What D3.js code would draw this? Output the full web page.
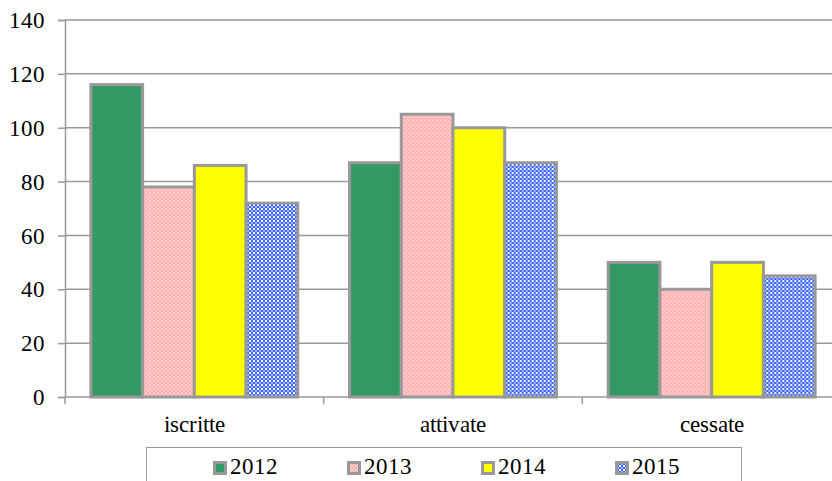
<!DOCTYPE html>
<html>
<head>
<meta charset="utf-8">
<script src="https://cdn.jsdelivr.net/npm/d3@7"></script>
<style>
  @font-face { font-family: "ChartSerif"; src: local("Liberation Serif"), local("LiberationSerif"), local("Times New Roman"); }
  body { margin: 0; background: #fff; }
  .lbl { font-family: "ChartSerif", "Liberation Serif", serif; font-size: 23px; fill: #000; }
</style>
</head>
<body>
<svg id="chart" width="832" height="481"></svg>
<script>
var categories = ["iscritte", "attivate", "cessate"];
var years = ["2012", "2013", "2014", "2015"];
var v2012 = [116, 87, 50];
var v2013 = [78, 105, 40];
var v2014 = [86, 100, 50];
var v2015 = [72, 87, 45];
var yTicks = [0, 20, 40, 60, 80, 100, 120, 140];

var series = [v2012, v2013, v2014, v2015];

var svg = d3.select("#chart");
var margin = { top: 20, left: 65 };
var plotBottom = 397;
var plotRight = 841;

var defs = svg.append("defs");
// 2013: pink dotted fill
var pPink = defs.append("pattern").attr("id", "pink").attr("width", 4).attr("height", 4)
  .attr("patternUnits", "userSpaceOnUse");
pPink.append("rect").attr("width", 4).attr("height", 4).attr("fill", "#ffb0b0");
pPink.append("rect").attr("width", 2).attr("height", 2).attr("fill", "#ffd0d0");
pPink.append("rect").attr("x", 2).attr("y", 2).attr("width", 2).attr("height", 2).attr("fill", "#ffc4c4");
// 2015: blue check
var pBlue = defs.append("pattern").attr("id", "blue").attr("width", 4).attr("height", 4)
  .attr("patternUnits", "userSpaceOnUse");
pBlue.append("rect").attr("width", 4).attr("height", 4).attr("fill", "#3a66ff");
pBlue.append("rect").attr("width", 2).attr("height", 2).attr("fill", "#ffffff");
pBlue.append("rect").attr("x", 2).attr("y", 2).attr("width", 2).attr("height", 2).attr("fill", "#a8bcff");

var fills = ["#339966", "url(#pink)", "#ffff00", "url(#blue)"];

var y = d3.scaleLinear().domain([0, 140]).range([plotBottom, margin.top]);
var x0 = d3.scaleBand().domain(categories).range([margin.left, plotRight]).paddingInner(0).paddingOuter(0);
var x1 = d3.scaleBand().domain(years).range([0, x0.bandwidth()]).paddingInner(0).paddingOuter(0.5);

// gridlines
svg.append("g").selectAll("line").data(yTicks.filter(function(d) { return d > 0; })).enter()
  .append("line")
  .attr("x1", margin.left).attr("x2", 832)
  .attr("y1", function(d) { return y(d); }).attr("y2", function(d) { return y(d); })
  .attr("stroke", "#999").attr("stroke-width", 1.5);

// bars
var groups = svg.append("g").selectAll("g").data(categories).enter()
  .append("g")
  .attr("transform", function(d) { return "translate(" + x0(d) + ",0)"; });

groups.selectAll("rect").data(function(c, i) {
    return years.map(function(yr, j) { return { year: yr, idx: j, value: series[j][i] }; });
  }).enter()
  .append("rect")
  .attr("x", function(d) { return x1(d.year); })
  .attr("y", function(d) { return y(d.value); })
  .attr("width", x1.bandwidth())
  .attr("height", function(d) { return plotBottom - y(d.value); })
  .attr("fill", function(d) { return fills[d.idx]; })
  .attr("stroke", "#999").attr("stroke-width", 3);

// y axis
var yAxis = svg.append("g")
  .attr("transform", "translate(" + margin.left + ",0)")
  .call(d3.axisLeft(y).tickValues(yTicks).tickSize(7).tickPadding(13));
yAxis.attr("font-family", null).attr("font-size", null);
yAxis.select(".domain").attr("stroke", "#999").attr("stroke-width", 1.5);
yAxis.selectAll(".tick line").attr("stroke", "#999").attr("stroke-width", 1.5);
yAxis.selectAll("text").attr("class", "lbl").attr("fill", "#000").attr("dy", "0.33em");

// x axis
svg.append("line").attr("x1", margin.left).attr("x2", 832).attr("y1", plotBottom).attr("y2", plotBottom)
  .attr("stroke", "#999").attr("stroke-width", 1.5);
svg.append("g").selectAll("line").data(categories).enter()
  .append("line")
  .attr("x1", function(d) { return x0(d); }).attr("x2", function(d) { return x0(d); })
  .attr("y1", plotBottom).attr("y2", plotBottom + 7)
  .attr("stroke", "#999").attr("stroke-width", 1.5);
svg.append("g").selectAll("text").data(categories).enter()
  .append("text").attr("class", "lbl")
  .attr("x", function(d) { return x0(d) + x0.bandwidth() / 2; })
  .attr("y", plotBottom + 35)
  .attr("text-anchor", "middle")
  .text(function(d) { return d; });

// legend
svg.append("rect")
  .attr("x", 146.5).attr("y", 447.5).attr("width", 595).attr("height", 40)
  .attr("fill", "#fff").attr("stroke", "#999").attr("stroke-width", 1);
var items = svg.append("g").selectAll("g").data(years).enter()
  .append("g")
  .attr("transform", function(d, i) { return "translate(" + (213 + i * 134) + ",461)"; });
items.append("rect")
  .attr("x", 1.5).attr("y", 1.5).attr("width", 11).attr("height", 11)
  .attr("fill", function(d, i) { return fills[i]; })
  .attr("stroke", "#999").attr("stroke-width", 3);
items.append("text").attr("class", "lbl")
  .attr("x", 17).attr("y", 13)
  .text(function(d) { return d; });
</script>
</body>
</html>
